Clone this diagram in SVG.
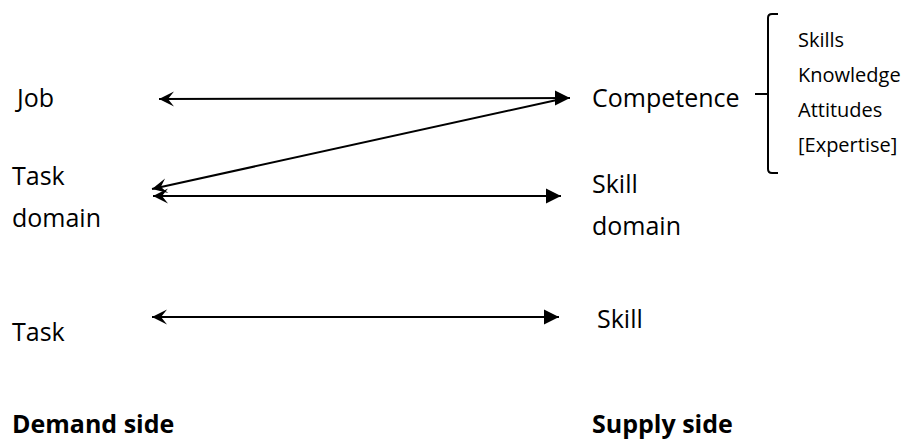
<svg xmlns="http://www.w3.org/2000/svg" width="908" height="439" viewBox="0 0 908 439">
<style>
  .lbl { font-family: "Open Sans", "Noto Sans", sans-serif; font-size: 25px; fill: #000; }
  .sm { font-family: "Open Sans", "Noto Sans", sans-serif; font-size: 20px; fill: #000; }
  .bold { font-family: "Open Sans", "Noto Sans", sans-serif; font-size: 25px; font-weight: bold; fill: #000; }
  .conn { fill: none; stroke: #000; stroke-width: 2; }
</style>
<defs>
  <marker id="stealth" markerUnits="userSpaceOnUse" viewBox="-16 -9 18 18" refX="0" refY="0" markerWidth="18" markerHeight="18" orient="auto-start-reverse">
    <path d="M0,0 L-15,-7.5 L-9,0 L-15,7.5 Z" fill="#000"/>
  </marker>
  <marker id="tri" markerUnits="userSpaceOnUse" viewBox="-16 -9 18 18" refX="0" refY="0" markerWidth="18" markerHeight="18" orient="auto">
    <path d="M0,0 L-15,-7.5 L-15,7.5 Z" fill="#000"/>
  </marker>
</defs>
<rect width="908" height="439" fill="#fff"/>

<g id="connectors">
  <path class="conn" d="M159,99 L570,98" marker-start="url(#stealth)" marker-end="url(#tri)"/>
  <path class="conn" d="M152,189 L566,98" marker-start="url(#stealth)"/>
  <path class="conn" d="M153,196 L561,196" marker-start="url(#stealth)" marker-end="url(#tri)"/>
  <path class="conn" d="M152,317 L559,317" marker-start="url(#stealth)" marker-end="url(#tri)"/>
  <path id="brace" class="conn" d="M778,14 L772,14 Q768,14 768,18 L768,94 L755,94 M768,94 L768,169 Q768,173 772,173 L778,173"/>
</g>

<g id="node-job"><text class="lbl" x="17" y="107">Job</text></g>
<g id="node-task-domain"><text class="lbl" x="12" y="185">Task</text><text class="lbl" x="12" y="227">domain</text></g>
<g id="node-task"><text class="lbl" x="12" y="341">Task</text></g>
<g id="label-demand"><text class="bold" x="12" y="433">Demand side</text></g>

<g id="node-competence"><text class="lbl" x="592" y="107">Competence</text></g>
<g id="node-skill-domain"><text class="lbl" x="592" y="193">Skill</text><text class="lbl" x="592" y="235">domain</text></g>
<g id="node-skill"><text class="lbl" x="597" y="328">Skill</text></g>
<g id="label-supply"><text class="bold" x="592" y="433">Supply side</text></g>

<g id="competence-parts">
  <text class="sm" x="798" y="47">Skills</text>
  <text class="sm" x="798" y="82">Knowledge</text>
  <text class="sm" x="798" y="117">Attitudes</text>
  <text class="sm" x="798" y="152">[Expertise]</text>
</g>
</svg>
